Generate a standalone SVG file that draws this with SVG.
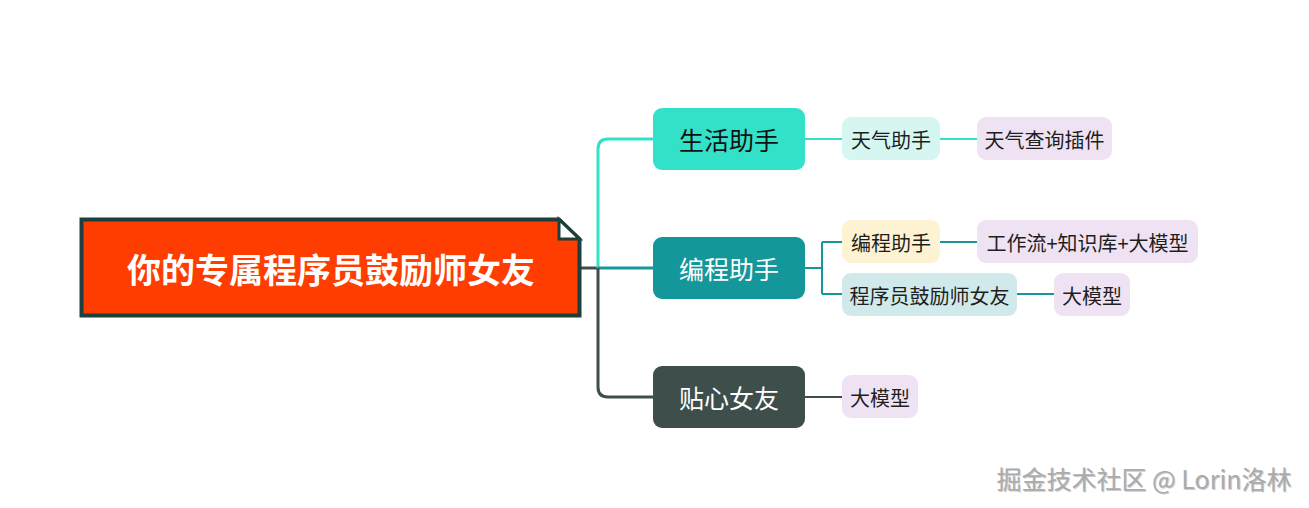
<svg xmlns="http://www.w3.org/2000/svg" width="1309" height="508" viewBox="0 0 1309 508">
<style>
text{font-family:"Microsoft YaHei","Noto Sans CJK SC","Noto Sans",sans-serif;dominant-baseline:central;text-anchor:middle}
.main{font-size:25px}
.sub{font-size:20px;fill:#1e1e1e}
.c1{stroke:#33e0c8;fill:none}
.c2{stroke:#16979b;fill:none}
.c3{stroke:#3e4f4b;fill:none}
.w3{stroke-width:3}
.w2{stroke-width:2}
</style>
<rect width="1309" height="508" fill="#ffffff"/>
<g id="connectors">
  <path class="c3 w3" d="M580 268 H598"/>
  <path class="c1 w3" d="M598 268 V149 Q598 139 608 139 H653"/>
  <path class="c2 w3" d="M598 268 H653"/>
  <path class="c3 w3" d="M598 268 V387 Q598 397 608 397 H653"/>
  <path class="c1 w2" d="M805 139 H842"/>
  <path class="c1 w2" d="M940 139 H977"/>
  <path class="c2 w2" d="M805 268 H822 M822 242 V294 M822 242 H842 M822 294 H842"/>
  <path class="c2 w2" d="M940 242 H977"/>
  <path class="c2 w2" d="M1017 294 H1054"/>
  <path class="c3 w2" d="M805 397 H842"/>
</g>
<g id="root">
  <path d="M81.5 219.5 H559 L579.5 239 V315.5 H81.5 Z" fill="#ff3d00" stroke="#1d3f3d" stroke-width="4" stroke-linejoin="miter"/>
  <path d="M559 219.5 V239 H579.5 Z" fill="#ffffff" stroke="#1d3f3d" stroke-width="3" stroke-linejoin="miter"/>
  <text x="331" y="268" fill="#ffffff" font-size="34" font-weight="bold">你的专属程序员鼓励师女友</text>
</g>
<g id="n-life">
  <rect x="653" y="108" width="152" height="62" rx="9" fill="#33e0c8"/>
  <text class="main" x="729" y="139" fill="#111111">生活助手</text>
</g>
<g id="n-code">
  <rect x="653" y="237" width="152" height="62" rx="9" fill="#14979b"/>
  <text class="main" x="729" y="268" fill="#ffffff">编程助手</text>
</g>
<g id="n-gf">
  <rect x="653" y="366" width="152" height="62" rx="9" fill="#3e4f4b"/>
  <text class="main" x="729" y="397" fill="#ffffff">贴心女友</text>
</g>
<g id="n-weather">
  <rect x="842" y="117" width="98" height="43" rx="9" fill="#d6f7f1"/>
  <text class="sub" x="891" y="139">天气助手</text>
</g>
<g id="n-weather-plugin">
  <rect x="977" y="117" width="135" height="43" rx="9" fill="#efe3f3"/>
  <text class="sub" x="1044.5" y="139">天气查询插件</text>
</g>
<g id="n-code-assist">
  <rect x="842" y="220" width="98" height="43" rx="9" fill="#fdf3d2"/>
  <text class="sub" x="891" y="242">编程助手</text>
</g>
<g id="n-workflow">
  <rect x="977" y="220" width="221" height="43" rx="9" fill="#efe3f3"/>
  <text class="sub" x="1087.5" y="242">工作流+知识库+大模型</text>
</g>
<g id="n-coder-gf">
  <rect x="842" y="273" width="175" height="43" rx="9" fill="#d0e9ea"/>
  <text class="sub" x="929.5" y="295">程序员鼓励师女友</text>
</g>
<g id="n-llm1">
  <rect x="1054" y="273" width="76" height="43" rx="9" fill="#efe3f3"/>
  <text class="sub" x="1092" y="295">大模型</text>
</g>
<g id="n-llm2">
  <rect x="842" y="375" width="76" height="43" rx="9" fill="#efe3f3"/>
  <text class="sub" x="880" y="397">大模型</text>
</g>
<g id="watermark">
  <text x="1144" y="478" font-size="25" fill="#707070" opacity="0.35" transform="translate(1 1)">掘金技术社区 @ Lorin洛林</text>
  <text x="1144" y="478" font-size="25" fill="#ababab">掘金技术社区 @ Lorin洛林</text>
</g>
</svg>
